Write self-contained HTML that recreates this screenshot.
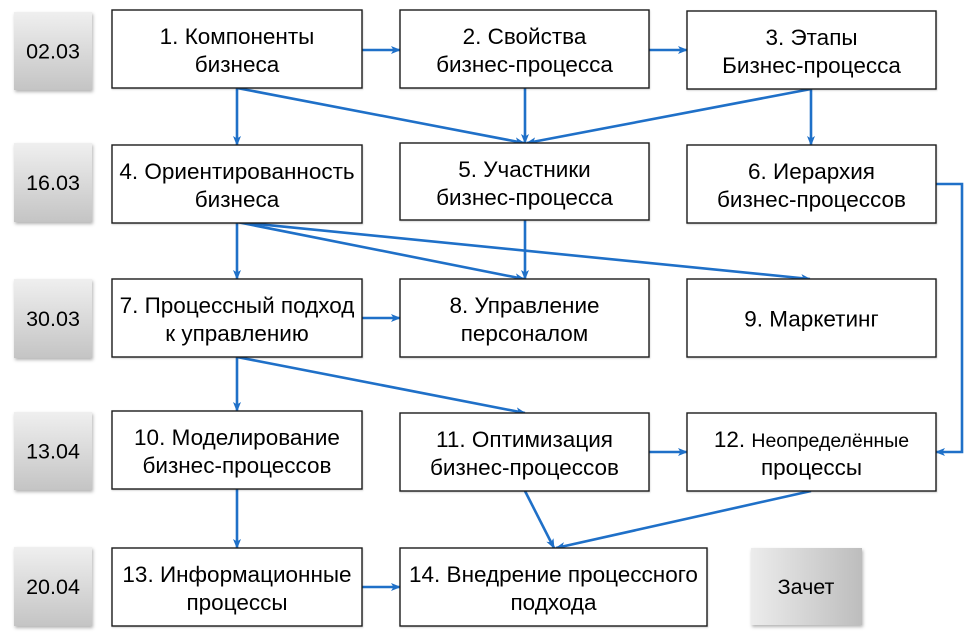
<!DOCTYPE html>
<html>
<head>
<meta charset="utf-8">
<style>
  html, body { margin: 0; padding: 0; background: #ffffff; }
  svg { display: block; }
  text { font-family: "Liberation Sans", "DejaVu Sans", sans-serif; fill: #000; }
  .t { font-size: 22.5px; text-anchor: middle; }
  .d { font-size: 21.5px; text-anchor: middle; }
  .box { fill: #ffffff; stroke: #1a1a1a; stroke-width: 1.4; }
  .c { stroke: #1f70c8; stroke-width: 2.6; fill: none; marker-end: url(#ah); }
  .cn { stroke: #1f70c8; stroke-width: 2.6; fill: none; }
</style>
</head>
<body>
<svg width="975" height="640" viewBox="0 0 975 640" xmlns="http://www.w3.org/2000/svg">
  <defs>
    <linearGradient id="gv" x1="0" y1="0" x2="0" y2="1">
      <stop offset="0" stop-color="#efefef"/>
      <stop offset="1" stop-color="#c4c4c4"/>
    </linearGradient>
    <linearGradient id="gh" x1="0" y1="0" x2="1" y2="0">
      <stop offset="0" stop-color="#ececec"/>
      <stop offset="1" stop-color="#bdbdbd"/>
    </linearGradient>
    <filter id="sh" x="-20%" y="-20%" width="140%" height="140%">
      <feDropShadow dx="1" dy="2" stdDeviation="1.5" flood-color="#000" flood-opacity="0.3"/>
    </filter>
    <filter id="bs" x="-5%" y="-5%" width="110%" height="115%">
      <feDropShadow dx="0.5" dy="1" stdDeviation="0.8" flood-color="#000" flood-opacity="0.18"/>
    </filter>
    <marker id="ah" markerWidth="10" markerHeight="10" refX="9" refY="5" orient="auto" markerUnits="userSpaceOnUse">
      <path d="M0,1 L10,5 L0,9 L2.5,5 z" fill="#1f70c8"/>
    </marker>
  </defs>

  <!-- Date boxes -->
  <g filter="url(#sh)">
    <rect x="14" y="12" width="78" height="78" fill="url(#gv)"/>
    <rect x="14" y="143" width="78" height="79" fill="url(#gv)"/>
    <rect x="14" y="279" width="78" height="79" fill="url(#gv)"/>
    <rect x="14" y="412" width="78" height="78" fill="url(#gv)"/>
    <rect x="14" y="547" width="78" height="79" fill="url(#gv)"/>
    <rect x="751" y="548" width="111" height="77" fill="url(#gh)"/>
  </g>
  <text class="d" x="53" y="58.5">02.03</text>
  <text class="d" x="53" y="190">16.03</text>
  <text class="d" x="53" y="326">30.03</text>
  <text class="d" x="53" y="458.5">13.04</text>
  <text class="d" x="53" y="594">20.04</text>
  <text class="d" x="806" y="594">Зачет</text>

  <!-- Connectors -->
  <line class="c" x1="362" y1="50" x2="400" y2="50"/>
  <line class="c" x1="649" y1="50" x2="687" y2="50"/>
  <line class="c" x1="237" y1="88" x2="237" y2="145"/>
  <line class="c" x1="237" y1="88" x2="524" y2="143"/>
  <line class="c" x1="525" y1="88" x2="525" y2="143"/>
  <line class="c" x1="811" y1="89" x2="527" y2="143"/>
  <line class="c" x1="811" y1="89" x2="811" y2="145"/>
  <polyline class="c" points="936,184 962,184 962,452 936,452"/>
  <line class="c" x1="237" y1="223" x2="237" y2="279"/>
  <line class="c" x1="237" y1="222" x2="524" y2="279"/>
  <line class="c" x1="237" y1="222" x2="810" y2="279"/>
  <line class="c" x1="525" y1="220" x2="525" y2="279"/>
  <line class="c" x1="362" y1="318" x2="400" y2="318"/>
  <line class="c" x1="237" y1="357" x2="237" y2="411"/>
  <line class="c" x1="237" y1="357" x2="525" y2="413"/>
  <line class="c" x1="237" y1="489" x2="237" y2="548"/>
  <line class="c" x1="649" y1="452" x2="687" y2="452"/>
  <line class="c" x1="525" y1="491" x2="554" y2="548"/>
  <line class="c" x1="811" y1="491" x2="556" y2="548"/>
  <line class="c" x1="362" y1="587" x2="400" y2="587"/>

  <!-- Boxes -->
  <g filter="url(#bs)">
    <rect class="box" x="112" y="10" width="250" height="78"/>
    <rect class="box" x="400" y="10" width="249" height="78"/>
    <rect class="box" x="687" y="11" width="249" height="78"/>
    <rect class="box" x="112" y="145" width="250" height="78"/>
    <rect class="box" x="400" y="143" width="249" height="77"/>
    <rect class="box" x="687" y="145" width="249" height="78"/>
    <rect class="box" x="112" y="279" width="250" height="78"/>
    <rect class="box" x="400" y="279" width="249" height="78"/>
    <rect class="box" x="687" y="279" width="249" height="78"/>
    <rect class="box" x="112" y="411" width="250" height="78"/>
    <rect class="box" x="400" y="413" width="249" height="78"/>
    <rect class="box" x="687" y="413" width="249" height="78"/>
    <rect class="box" x="112" y="548" width="250" height="78"/>
    <rect class="box" x="400" y="548" width="307" height="78"/>
  </g>

  <!-- Box texts -->
  <text class="t" x="237" y="44">1. Компоненты</text>
  <text class="t" x="237" y="72">бизнеса</text>

  <text class="t" x="524.5" y="44">2. Свойства</text>
  <text class="t" x="524.5" y="72">бизнес-процесса</text>

  <text class="t" x="811.5" y="45">3. Этапы</text>
  <text class="t" x="811.5" y="73">Бизнес-процесса</text>

  <text class="t" x="237" y="179">4. Ориентированность</text>
  <text class="t" x="237" y="207">бизнеса</text>

  <text class="t" x="524.5" y="177">5. Участники</text>
  <text class="t" x="524.5" y="205">бизнес-процесса</text>

  <text class="t" x="811.5" y="179">6. Иерархия</text>
  <text class="t" x="811.5" y="207">бизнес-процессов</text>

  <text class="t" x="237" y="313">7. Процессный подход</text>
  <text class="t" x="237" y="341">к управлению</text>

  <text class="t" x="524.5" y="313">8. Управление</text>
  <text class="t" x="524.5" y="341">персоналом</text>

  <text class="t" x="811.5" y="326.5">9. Маркетинг</text>

  <text class="t" x="237" y="445">10. Моделирование</text>
  <text class="t" x="237" y="473">бизнес-процессов</text>

  <text class="t" x="524.5" y="447">11. Оптимизация</text>
  <text class="t" x="524.5" y="475">бизнес-процессов</text>

  <text class="t" x="811.5" y="447">12. <tspan font-size="19.5">Неопределённые</tspan></text>
  <text class="t" x="811.5" y="475" font-size="20">процессы</text>

  <text class="t" x="237" y="582">13. Информационные</text>
  <text class="t" x="237" y="610">процессы</text>

  <text class="t" x="553.5" y="582">14. Внедрение процессного</text>
  <text class="t" x="553.5" y="610">подхода</text>
</svg>
</body>
</html>
